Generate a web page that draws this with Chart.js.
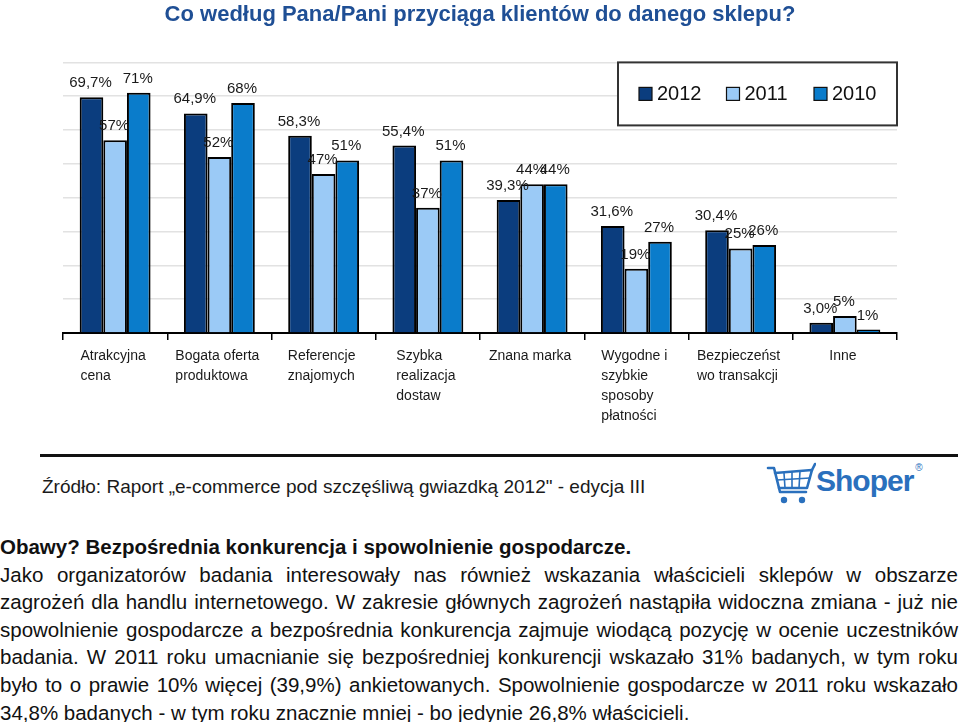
<!DOCTYPE html>
<html lang="pl">
<head>
  <meta charset="UTF-8">
  <title>Co według Pana/Pani przyciąga klientów do danego sklepu?</title>
  <script src="https://cdn.jsdelivr.net/npm/chart.js"></script>
  <style>
    body {
      margin: 0;
      background: #fff;
      font-family: 'Liberation Sans', Arial, sans-serif;
      color: #111;
      width: 960px;
      height: 722px;
      position: relative;
      overflow: hidden;
    }

    #chartBox {
      position: absolute;
      left: 0;
      top: 0;
      width: 960px;
      height: 445px;
    }

    .source-line {
      position: absolute;
      left: 40px;
      top: 454px;
      width: 918px;
      height: 3px;
      background: #111;
    }

    .source {
      position: absolute;
      left: 42px;
      top: 476px;
      font-size: 19px;
      color: #1a1a1a;
    }

    .logo {
      position: absolute;
      left: 766px;
      top: 462px;
      display: flex;
      align-items: flex-start;
    }

    .logo span {
      font-weight: bold;
      font-size: 30px;
      color: #2a70bd;
      letter-spacing: -1px;
      margin-top: 2px;
    }

    .logo sup {
      font-size: 10px;
      color: #2a70bd;
      margin-left: 2px;
    }

    .text {
      position: absolute;
      left: 0;
      top: 533px;
      width: 958px;
      font-size: 20.5px;
      line-height: 27.6px;
    }

    .text div {
      text-align: justify;
      text-align-last: justify;
      white-space: nowrap;
    }

    .text div.last, .text div.head {
      text-align-last: left;
    }

    .text .head {
      font-weight: bold;
    }
  </style>
</head>
<body>

  <div id="chartBox"><canvas id="chart" width="960" height="445"></canvas></div>

  <div class="source-line"></div>
  <div class="source">Źródło: Raport „e-commerce pod szczęśliwą gwiazdką 2012" - edycja III</div>

  <div class="logo">
    <svg width="50" height="46" viewBox="0 0 50 46">
      <g fill="none" stroke="#2a70bd" stroke-width="2.6" stroke-linecap="round" stroke-linejoin="round">
        <path d="M2 6 L8 6 L14 30 L40 30"/>
        <path d="M9 11 L46 8 L41 26 L13 26"/>
        <path d="M11 18 L44 16" stroke-width="1.6"/>
        <path d="M18 11 L19 26 M26 10 L26 26 M34 9 L33 26" stroke-width="1.6"/>
        <path d="M46 8 L49 2"/>
      </g>
      <circle cx="18" cy="38" r="3.2" fill="#2a70bd"/>
      <circle cx="36" cy="38" r="3.2" fill="#2a70bd"/>
    </svg>
    <span>Shoper</span><sup>®</sup>
  </div>

  <div class="text">
    <div class="head">Obawy? Bezpośrednia konkurencja i spowolnienie gospodarcze.</div>
    <div>Jako organizatorów badania interesowały nas również wskazania właścicieli sklepów w obszarze</div>
    <div>zagrożeń dla handlu internetowego. W zakresie głównych zagrożeń nastąpiła widoczna zmiana - już nie</div>
    <div>spowolnienie gospodarcze a bezpośrednia konkurencja zajmuje wiodącą pozycję w ocenie uczestników</div>
    <div>badania. W 2011 roku umacnianie się bezpośredniej konkurencji wskazało 31% badanych, w tym roku</div>
    <div>było to o prawie 10% więcej (39,9%) ankietowanych. Spowolnienie gospodarcze w 2011 roku wskazało</div>
    <div class="last">34,8% badanych - w tym roku znacznie mniej - bo jedynie 26,8% właścicieli.</div>
  </div>

  <script>
    // dane z wykresu
    const categories = [
      ['Atrakcyjna', 'cena'],
      ['Bogata oferta', 'produktowa'],
      ['Referencje', 'znajomych'],
      ['Szybka', 'realizacja', 'dostaw'],
      ['Znana marka'],
      ['Wygodne i', 'szybkie', 'sposoby', 'płatności'],
      ['Bezpieczeńst', 'wo transakcji'],
      ['Inne']
    ];
    const years = ['2012', '2011', '2010'];
    const values2012 = [69.7, 64.9, 58.3, 55.4, 39.3, 31.6, 30.4, 3.0];
    const values2011 = [57, 52, 47, 37, 44, 19, 25, 5];
    const values2010 = [71, 68, 51, 51, 44, 27, 26, 1];
    const labelDecimals = [1, 0, 0];
    const yMin = 0;
    const yMax = 80;
    const yStep = 10;

    const colors = ['#0b3d7e', '#9bcaf6', '#0a7ccb'];
    const baseFont = "'Liberation Sans', Arial, sans-serif";

    // etykiety wartości nad słupkami
    const valueLabels = {
      id: 'valueLabels',
      afterDatasetsDraw(chart) {
        const ctx = chart.ctx;
        ctx.save();
        ctx.font = '15px ' + baseFont;
        ctx.fillStyle = '#1a1a1a';
        ctx.textAlign = 'center';
        ctx.textBaseline = 'alphabetic';
        chart.data.datasets.forEach((ds, i) => {
          chart.getDatasetMeta(i).data.forEach((bar, j) => {
            const txt = ds.data[j].toFixed(labelDecimals[i]).replace('.', ',') + '%';
            ctx.fillText(txt, bar.x - 1, bar.y - 10);
          });
        });
        ctx.restore();
      }
    };

    // podpisy kategorii (wyrównane do lewej w bloku)
    const categoryLabels = {
      id: 'categoryLabels',
      afterDraw(chart) {
        const ctx = chart.ctx;
        const xScale = chart.scales.x;
        const top = chart.chartArea.bottom + 27;
        ctx.save();
        ctx.font = '14px ' + baseFont;
        ctx.fillStyle = '#1a1a1a';
        ctx.textAlign = 'left';
        categories.forEach((lines, i) => {
          const w = Math.max(...lines.map(l => ctx.measureText(l).width));
          const x = xScale.getPixelForValue(i) - w / 2 - 2;
          lines.forEach((l, k) => ctx.fillText(l, x, top + k * 20));
        });
        ctx.restore();
      }
    };

    // legenda w ramce w prawym górnym rogu
    const boxLegend = {
      id: 'boxLegend',
      afterDraw(chart) {
        const ctx = chart.ctx;
        const area = chart.chartArea;
        const w = 279, h = 63;
        const left = area.right - w;
        const top = area.top;
        ctx.save();
        ctx.fillStyle = '#fff';
        ctx.fillRect(left, top, w, h);
        ctx.strokeStyle = '#333';
        ctx.lineWidth = 2;
        ctx.strokeRect(left, top, w, h);
        ctx.font = '20px ' + baseFont;
        ctx.textBaseline = 'middle';
        ctx.textAlign = 'left';
        chart.data.datasets.forEach((ds, i) => {
          const x = left + 21 + i * 87.5;
          const y = top + 31;
          ctx.fillStyle = ds.backgroundColor;
          ctx.fillRect(x, y - 6, 13, 13);
          ctx.lineWidth = 1.2;
          ctx.strokeStyle = '#111';
          ctx.strokeRect(x, y - 6, 13, 13);
          ctx.fillStyle = '#111';
          ctx.fillText(ds.label, x + 18, y + 1);
        });
        ctx.restore();
      }
    };

    new Chart(document.getElementById('chart'), {
      type: 'bar',
      data: {
        labels: categories,
        datasets: [
          { label: years[0], data: values2012, backgroundColor: colors[0] },
          { label: years[1], data: values2011, backgroundColor: colors[1] },
          { label: years[2], data: values2010, backgroundColor: colors[2] }
        ]
      },
      options: {
        responsive: false,
        animation: false,
        devicePixelRatio: 1,
        layout: { padding: { left: 63, right: 63, bottom: 105 } },
        datasets: {
          bar: {
            categoryPercentage: 0.68,
            barPercentage: 1,
            borderColor: '#000',
            borderWidth: 2
          }
        },
        plugins: {
          legend: { display: false },
          tooltip: { enabled: false },
          title: {
            display: true,
            text: 'Co według Pana/Pani przyciąga klientów do danego sklepu?',
            color: '#1f4f95',
            font: { family: baseFont, size: 22, weight: 'bold', lineHeight: 1.2 },
            padding: { top: 2, bottom: 34 }
          }
        },
        scales: {
          x: {
            ticks: { display: false },
            grid: {
              drawOnChartArea: false,
              drawTicks: true,
              tickLength: 7,
              color: '#000',
              lineWidth: 1.5
            },
            border: { color: '#000', width: 2 }
          },
          y: {
            min: yMin,
            max: yMax,
            ticks: { display: false, stepSize: yStep },
            grid: { drawTicks: false, color: '#e2e2e2', lineWidth: 1.5 },
            border: { display: false }
          }
        }
      },
      plugins: [valueLabels, categoryLabels, boxLegend]
    });
  </script>
</body>
</html>
